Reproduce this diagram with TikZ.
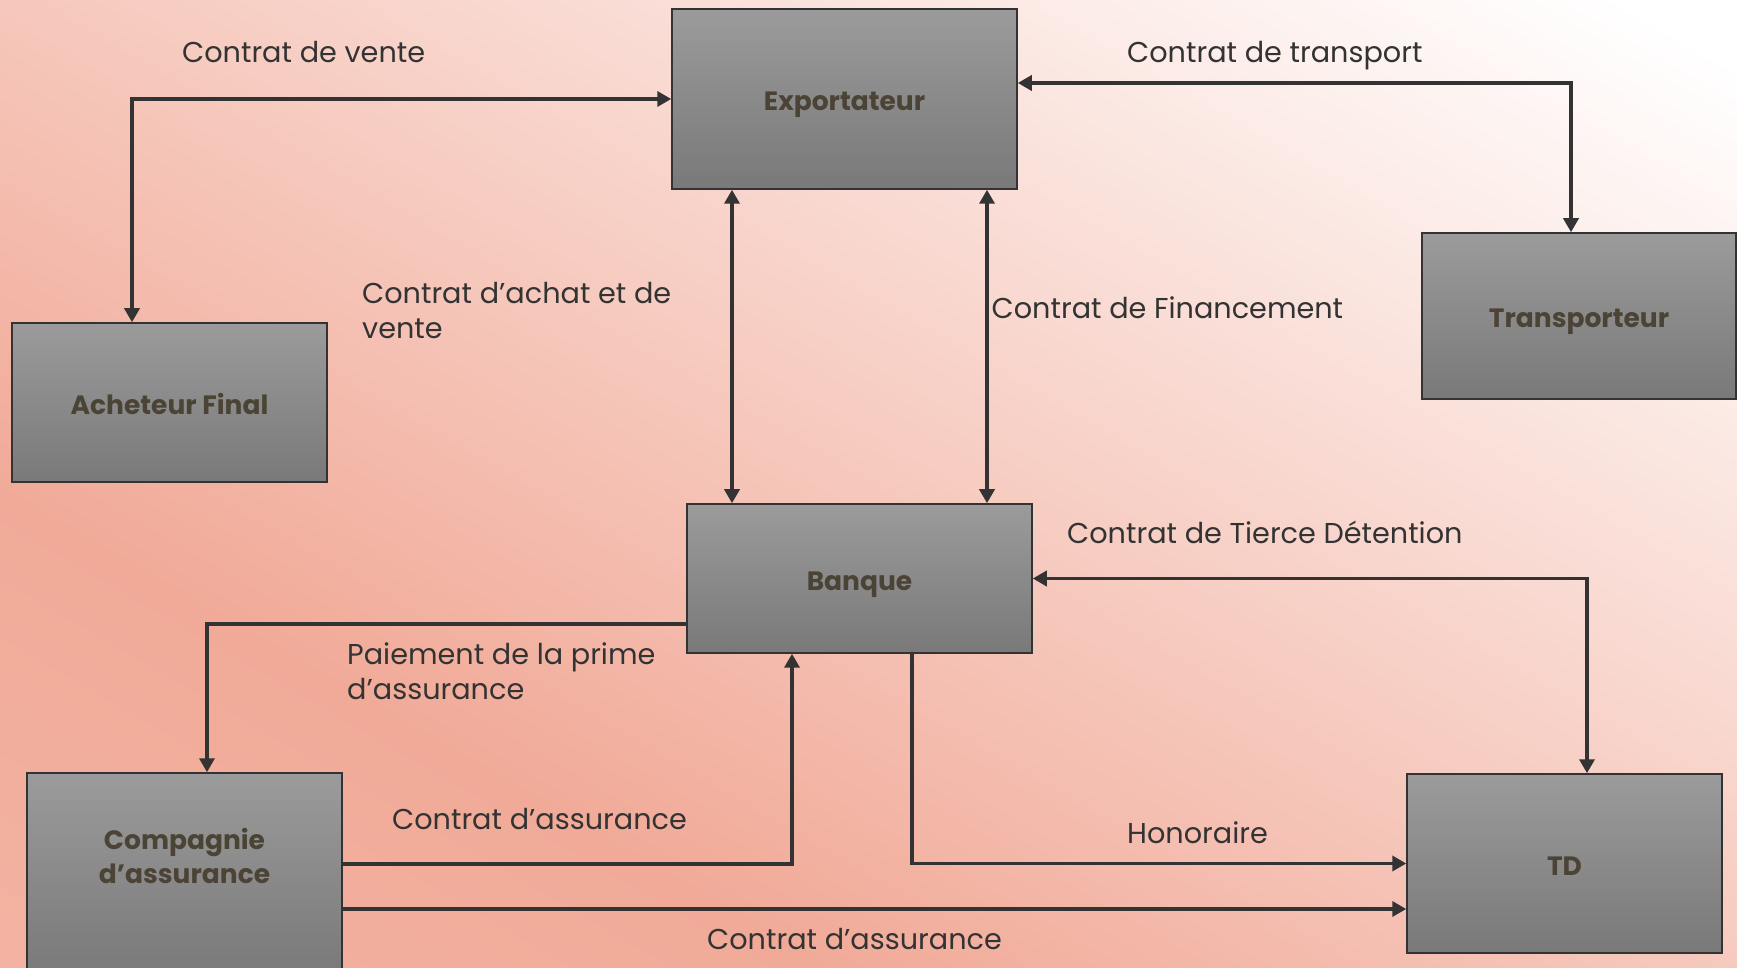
\documentclass[tikz,border=0pt]{standalone}
\usepackage{fontspec}
\setmainfont{Poppins}
\usetikzlibrary{arrows.meta}

\definecolor{saumon}{HTML}{F1AA98}
\definecolor{saumonclair}{HTML}{F5BCAD}
\definecolor{boxhaut}{HTML}{9B9B9B}
\definecolor{boxbas}{HTML}{797979}
\definecolor{boxtexte}{HTML}{4B4335}
\definecolor{trait}{HTML}{333333}

\tikzset{
  acteur/.style={draw=trait, line width=1.5pt, top color=boxhaut, bottom color=boxbas,
    text=boxtexte, font=\fontsize{26.5}{34}\selectfont\bfseries, align=center, inner sep=0pt,
    text height=26pt, text depth=2pt},
  acteurtexte/.style={text=boxtexte, font=\fontsize{26.5}{34}\selectfont\bfseries, align=center, inner sep=0pt},
  lien/.style={draw=trait, line width=3.5pt},
  fl/.style={-{Triangle[length=14pt,width=15pt]}},
  dfl/.style={{Triangle[length=14pt,width=15pt]}-{Triangle[length=14pt,width=15pt]}},
  etiq/.style={anchor=base west, inner sep=0pt, text=trait, font=\fontsize{28.7}{35}\selectfont, align=left},
}

\begin{document}
\begin{tikzpicture}[x=1pt,y=1pt]
    \useasboundingbox (0,0) rectangle (1737,967);

    % fond
    \begin{scope}
        \clip (0,0) rectangle (1737,967);
        \fill[saumon] (0,0) rectangle (1737,967);
        \begin{scope}[transform canvas={shift={(0,474)}, rotate=-30}]
            \shade[bottom color=saumonclair, top color=saumon] (-3000,-900) rectangle (3000,0);
            \shade[bottom color=saumon, top color=white] (-3000,0) rectangle (3000,1237);
            \fill[white] (-3000,1230) rectangle (3000,3000);
        \end{scope}
    \end{scope}

    % acteurs
    \node[acteur, minimum width=345pt, minimum height=180pt] (exportateur) at (844.5,868) {Exportateur};
    \node[acteur, minimum width=315pt, minimum height=159pt] (acheteur) at (169.5,564.5) {Acheteur Final};
    \node[acteur, minimum width=314pt, minimum height=166pt] (transporteur) at (1579,651) {Transporteur};
    \node[acteur, minimum width=345pt, minimum height=149pt] (banque) at (859.5,388.5) {Banque};
    \node[acteur, minimum width=315pt, minimum height=202pt] (compagnie) at (184.5,93) {};
    \node[acteurtexte] (compagnietexte) at (184.5,111) {Compagnie\\d’assurance};
    \node[acteur, minimum width=315pt, minimum height=179pt] (td) at (1564.5,103.5) {TD};

    % coins des liens
    \coordinate (coinvente) at (132,868);
    \coordinate (cointransport) at (1571,884);
    \coordinate (achatx) at (732,0);
    \coordinate (financex) at (987,0);
    \coordinate (cointierce) at (1587,388);
    \coordinate (coinprime) at (207,343);
    \coordinate (coinassur) at (792,103);
    \coordinate (coinhono) at (912,103.5);
    \coordinate (assurbas) at (0,58);

    % liens
    \draw[lien, dfl] (acheteur.north -| coinvente) |- (exportateur.west);
    \draw[lien, dfl] (exportateur.east |- cointransport) -| (transporteur.north -| cointransport);
    \draw[lien, dfl] (exportateur.south -| achatx) -- (banque.north -| achatx);
    \draw[lien, dfl] (exportateur.south -| financex) -- (banque.north -| financex);
    \draw[lien, dfl] (banque.east) -| (td.north -| cointierce);
    \draw[lien, fl] (banque.west |- coinprime) -| (compagnie.north -| coinprime);
    \draw[lien, fl] (compagnie.east |- coinassur) -| (banque.south -| coinassur);
    \draw[lien, fl] (banque.south -| coinhono) |- (td.west);
    \draw[lien, fl] (compagnie.east |- assurbas) -- (td.west |- assurbas);

    % textes
    \node[etiq] (lvente) at (182,904) {Contrat de vente};
    \node[etiq] (ltransport) at (1127,904) {Contrat de transport};
    \node[etiq] (lachat) at (362,628) {Contrat d’achat et de\\vente};
    \node[etiq] (lfinance) at (991.5,648) {Contrat de Financement};
    \node[etiq] (ltierce) at (1067,423) {Contrat de Tierce Détention};
    \node[etiq] (lprime) at (347,267) {Paiement de la prime\\d’assurance};
    \node[etiq] (lassurhaut) at (392,138) {Contrat d’assurance};
    \node[etiq] (lhono) at (1127,124) {Honoraire};
    \node[etiq] (lassurbas) at (707,18) {Contrat d’assurance};
\end{tikzpicture}
\end{document}
